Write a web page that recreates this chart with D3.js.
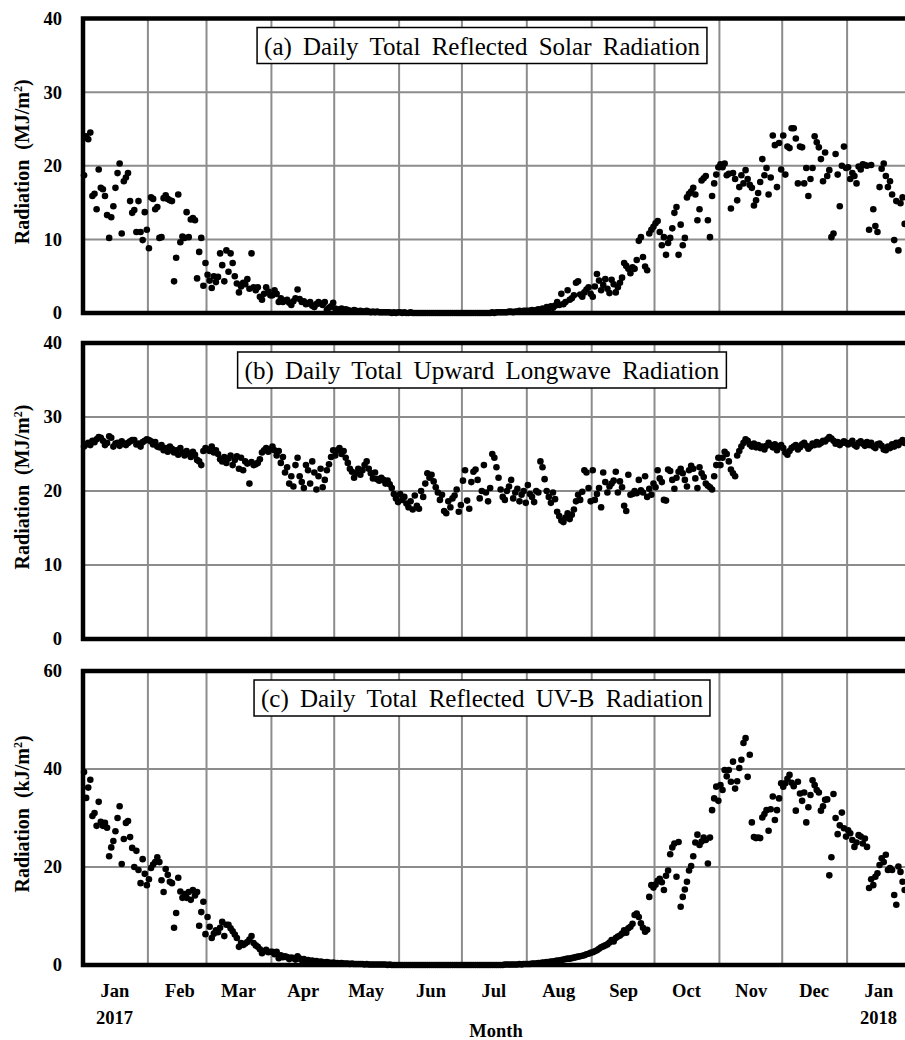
<!DOCTYPE html>
<html>
<head>
<meta charset="utf-8">
<script src="https://cdn.jsdelivr.net/npm/d3@7"></script>
<style>
  body { margin: 0; background: #fff; }
  svg { display: block; }
</style>
</head>
<body>
<div id="chart"></div>
<script>
// Daily values, one inner array per month, Jan 2017 .. Jan 2018
const reflectedSolar = [
  [18.7, 24.0, 23.6, 24.5, 15.9, 16.2, 14.1, 19.5, 17.0, 16.8, 15.9, 13.3, 10.2, 13.0, 14.5, 17.0, 19.0, 20.3, 10.8, 17.9, 18.4, 19.0, 15.2, 13.6, 14.0, 11.0, 15.2, 11.0, 9.9, 13.7, 11.3],
  [8.8, 15.7, 15.5, 14.1, 14.4, 10.2, 10.3, 15.6, 16.0, 15.5, 15.3, 15.2, 4.3, 7.5, 16.1, 9.6, 10.4, 10.2, 13.7, 10.3, 12.7, 12.9, 12.6, 4.7, 8.3, 10.2, 3.7, 6.8],
  [5.2, 4.4, 3.4, 5.0, 4.2, 4.9, 8.1, 6.5, 4.3, 8.5, 5.6, 8.1, 6.8, 5.0, 4.0, 2.8, 3.6, 4.1, 3.9, 4.6, 3.3, 8.1, 3.5, 3.1, 3.5, 2.2, 1.8, 2.6, 3.5, 2.9, 2.4],
  [2.4, 3.1, 2.6, 1.5, 2.0, 1.5, 1.7, 1.8, 1.4, 1.1, 1.6, 2.0, 3.2, 1.9, 1.5, 1.6, 1.2, 1.3, 1.5, 1.0, 0.8, 1.2, 1.5, 1.3, 1.1, 1.5, 0.4, 0.7, 0.9, 1.4],
  [0.6, 0.5, 0.4, 0.6, 0.3, 0.5, 0.4, 0.3, 0.2, 0.4, 0.3, 0.2, 0.3, 0.2, 0.2, 0.3, 0.2, 0.1, 0.2, 0.1, 0.2, 0.1, 0.1, 0.1, 0.1, 0.1, 0.1, 0.0, 0.1, 0.0, 0.1],
  [0.1, 0.0, 0.1, 0.0, 0.0, 0.1, 0.0, 0.0, 0.0, 0.0, 0.0, 0.0, 0.0, 0.0, 0.0, 0.0, 0.0, 0.0, 0.0, 0.0, 0.0, 0.0, 0.0, 0.0, 0.0, 0.0, 0.0, 0.0, 0.0, 0.0],
  [0.0, 0.0, 0.0, 0.0, 0.0, 0.0, 0.0, 0.0, 0.0, 0.0, 0.0, 0.0, 0.0, 0.0, 0.1, 0.0, 0.1, 0.1, 0.1, 0.1, 0.1, 0.1, 0.2, 0.2, 0.1, 0.2, 0.2, 0.3, 0.2, 0.3, 0.3],
  [0.3, 0.3, 0.4, 0.2, 0.4, 0.5, 0.3, 0.6, 0.5, 0.8, 0.6, 0.9, 0.7, 1.0, 1.5, 1.1, 2.6, 1.2, 1.5, 3.1, 1.8, 2.0, 2.4, 4.1, 4.3, 2.5, 2.2, 2.8, 3.2, 3.5, 2.6],
  [2.2, 3.6, 5.3, 4.4, 3.1, 3.8, 4.6, 3.3, 2.7, 4.5, 3.9, 2.8, 3.5, 4.1, 4.8, 6.8, 6.4, 6.0, 5.4, 6.2, 6.0, 7.2, 9.8, 10.3, 7.6, 6.3, 5.8, 10.8, 11.3, 11.7],
  [12.2, 12.5, 11.0, 9.2, 10.3, 7.9, 9.5, 10.2, 11.5, 13.6, 14.4, 7.9, 12.0, 9.2, 10.2, 15.7, 16.2, 16.5, 17.0, 16.1, 12.6, 14.1, 18.0, 18.3, 18.6, 12.6, 10.3, 15.9, 17.6, 18.8, 19.8],
  [20.2, 19.8, 20.3, 18.7, 18.9, 14.2, 19.0, 18.2, 15.3, 17.1, 18.7, 17.6, 19.4, 18.2, 17.4, 17.0, 14.6, 15.3, 16.3, 17.8, 20.9, 18.7, 19.7, 16.1, 18.4, 24.1, 22.8, 17.1, 23.1, 19.5],
  [24.1, 18.8, 22.6, 22.4, 25.1, 25.1, 23.7, 17.6, 22.6, 22.5, 17.6, 19.7, 15.9, 18.2, 19.7, 24.0, 23.2, 22.5, 20.9, 17.9, 21.8, 18.6, 19.4, 10.3, 10.8, 21.6, 18.8, 14.5, 20.0, 22.6, 19.7],
  [19.8, 18.2, 19.0, 18.6, 17.6, 19.9, 19.5, 20.2, 20.1, 20.0, 11.3, 20.1, 14.1, 11.8, 11.0, 17.1, 19.6, 20.3, 18.6, 17.1, 17.9, 16.1, 9.9, 15.2, 8.5, 14.9, 15.7, 12.1]
];

const upwardLongwave = [
  [26.0, 26.3, 26.5, 26.2, 26.8, 26.6, 27.0, 27.3, 27.2, 26.8, 26.2, 26.5, 27.4, 27.2, 26.0, 26.4, 26.5, 26.1, 26.7, 26.4, 26.2, 26.5, 26.7, 26.9, 26.9, 26.3, 26.4, 26.0, 26.6, 26.8, 27.0],
  [26.9, 26.7, 26.3, 26.6, 26.0, 25.9, 26.2, 25.5, 25.8, 25.3, 26.0, 25.7, 25.2, 25.5, 24.9, 25.8, 25.2, 24.8, 25.4, 25.0, 24.6, 25.3, 24.9, 24.2, 24.0, 23.5, 25.4, 25.8],
  [25.6, 25.4, 26.0, 25.2, 25.5, 25.0, 24.3, 24.0, 24.6, 23.8, 24.4, 24.8, 23.5, 24.2, 24.7, 23.0, 24.5, 22.8, 24.0, 23.7, 21.0, 23.9, 23.5, 23.6, 23.8, 24.3, 25.2, 25.5, 25.8, 25.3, 25.6],
  [26.0, 25.5, 24.8, 25.4, 23.8, 24.6, 22.5, 23.2, 21.0, 22.0, 20.6, 23.5, 24.5, 22.0, 21.2, 20.4, 23.5, 22.8, 21.0, 24.0, 22.5, 20.2, 22.0, 23.0, 20.5, 21.5, 22.8, 23.6, 24.6, 25.5],
  [24.8, 25.5, 25.8, 25.0, 25.4, 24.5, 23.8, 23.0, 22.6, 21.8, 22.4, 23.0, 22.2, 22.8, 23.5, 24.0, 23.0, 22.4, 21.7, 22.5, 21.6, 21.4, 21.8, 21.5, 21.0, 21.4, 20.9, 20.4, 19.6, 19.0, 18.5],
  [19.6, 18.8, 19.2, 18.3, 17.8, 18.6, 17.5, 19.4, 18.0, 17.6, 20.0, 19.2, 21.0, 22.4, 21.8, 22.2, 21.3, 20.5, 19.8, 18.8, 19.5, 17.3, 17.0, 18.6, 17.8, 19.0, 19.4, 20.2, 17.2, 18.1],
  [21.4, 22.8, 18.7, 17.6, 21.2, 22.6, 22.9, 21.5, 19.0, 20.0, 23.5, 19.8, 18.6, 20.4, 25.0, 24.5, 23.2, 21.8, 20.2, 19.2, 18.8, 20.0, 20.6, 21.5, 19.0, 19.8, 20.3, 18.6, 19.5, 20.0, 18.4],
  [20.8, 19.6, 19.2, 18.5, 20.0, 19.8, 24.0, 23.2, 21.6, 20.0, 19.2, 18.4, 19.8, 18.9, 17.2, 16.6, 16.0, 15.8, 16.4, 17.0, 16.2, 16.8, 17.5, 18.6, 19.5, 18.8, 19.9, 22.8, 22.5, 20.4, 18.6],
  [22.8, 18.8, 19.6, 20.4, 17.8, 22.5, 21.2, 19.8, 20.6, 21.0, 21.4, 22.6, 19.8, 21.3, 20.5, 18.0, 17.3, 22.2, 19.5, 19.6, 20.0, 19.7, 21.5, 20.1, 19.8, 22.0, 19.2, 20.3, 19.5, 21.0],
  [20.5, 22.8, 21.7, 21.2, 18.8, 18.7, 22.9, 22.7, 21.5, 20.3, 21.8, 22.6, 23.0, 22.4, 21.5, 20.6, 22.8, 23.4, 23.0, 21.7, 20.4, 23.2, 22.4, 21.9, 21.0, 20.7, 20.5, 20.2, 22.0, 23.5, 24.5],
  [23.5, 24.5, 25.3, 25.0, 24.0, 22.9, 22.4, 22.0, 24.8, 25.4, 26.0, 26.5, 27.0, 26.8, 26.3, 26.0, 26.4, 25.9, 26.2, 25.8, 26.0, 25.6, 26.1, 26.5, 26.2, 25.9, 26.3, 25.5, 26.0, 26.2],
  [25.8, 25.2, 24.9, 25.4, 25.8, 26.0, 26.2, 25.6, 25.9, 26.3, 26.5, 26.1, 25.7, 26.0, 26.4, 26.2, 26.6, 26.3, 26.5, 26.8, 26.7, 27.0, 27.3, 27.1, 26.8, 26.4, 26.6, 26.2, 26.5, 26.7, 26.5],
  [26.3, 26.5, 26.8, 26.2, 26.0, 26.5, 26.7, 26.4, 26.1, 26.6, 26.2, 26.5, 26.0, 25.8, 26.3, 26.4, 26.1, 25.6, 25.5, 26.0, 25.8, 26.3, 26.0, 26.5, 26.2, 26.6, 26.9, 26.5]
];

const reflectedUVB = [
  [39.4, 34.1, 36.2, 37.8, 30.4, 31.0, 28.4, 33.3, 29.2, 28.4, 29.0, 28.0, 22.2, 24.0, 25.3, 27.3, 30.0, 32.4, 20.6, 25.7, 29.0, 29.4, 26.1, 23.9, 20.0, 23.3, 19.4, 16.7, 21.6, 18.6, 16.3],
  [17.5, 19.8, 20.5, 21.0, 22.0, 21.0, 17.3, 14.9, 19.6, 18.4, 17.0, 16.7, 7.6, 10.6, 17.8, 15.0, 13.7, 14.5, 13.7, 14.9, 13.3, 15.3, 14.2, 14.9, 8.0, 10.8, 12.9, 6.3],
  [9.8, 7.8, 5.5, 6.4, 7.1, 6.7, 7.6, 8.8, 5.9, 8.2, 8.2, 7.5, 6.9, 6.2, 5.5, 3.7, 4.5, 4.1, 4.4, 4.7, 5.2, 5.9, 4.5, 4.0, 3.7, 3.2, 2.4, 2.8, 3.1, 2.6, 2.7],
  [2.7, 2.2, 2.7, 1.4, 2.0, 1.6, 1.8, 1.6, 1.2, 1.5, 1.4, 1.1, 1.8, 1.3, 1.0, 1.2, 0.9, 1.0, 0.8, 0.9, 0.7, 0.8, 0.6, 0.7, 0.6, 0.5, 0.6, 0.5, 0.4, 0.5],
  [0.4, 0.4, 0.3, 0.4, 0.3, 0.3, 0.3, 0.2, 0.3, 0.2, 0.2, 0.2, 0.2, 0.2, 0.1, 0.2, 0.1, 0.1, 0.1, 0.1, 0.1, 0.1, 0.1, 0.1, 0.1, 0.0, 0.1, 0.0, 0.0, 0.0, 0.0],
  [0.0, 0.0, 0.0, 0.0, 0.0, 0.0, 0.0, 0.0, 0.0, 0.0, 0.0, 0.0, 0.0, 0.0, 0.0, 0.0, 0.0, 0.0, 0.0, 0.0, 0.0, 0.0, 0.0, 0.0, 0.0, 0.0, 0.0, 0.0, 0.0, 0.0],
  [0.0, 0.0, 0.0, 0.0, 0.0, 0.0, 0.0, 0.0, 0.0, 0.0, 0.0, 0.0, 0.0, 0.0, 0.0, 0.0, 0.0, 0.0, 0.0, 0.0, 0.1, 0.1, 0.1, 0.1, 0.1, 0.1, 0.1, 0.2, 0.1, 0.2, 0.2],
  [0.2, 0.2, 0.3, 0.3, 0.3, 0.4, 0.4, 0.5, 0.5, 0.6, 0.6, 0.7, 0.7, 0.8, 0.9, 0.9, 1.0, 1.1, 1.2, 1.3, 1.3, 1.4, 1.5, 1.6, 1.7, 1.8, 1.9, 2.0, 2.2, 2.3, 2.5],
  [2.6, 2.8, 3.0, 3.3, 3.6, 3.8, 4.0, 4.2, 4.6, 5.1, 4.8, 5.5, 5.8, 6.0, 6.4, 7.1, 6.6, 7.5, 7.8, 8.4, 10.2, 10.5, 9.8, 8.5, 7.6, 6.8, 7.2, 13.9, 16.3, 15.8],
  [16.4, 17.2, 17.6, 16.9, 15.3, 18.2, 19.3, 22.6, 24.0, 24.8, 18.0, 25.1, 11.9, 13.9, 15.4, 17.0, 19.3, 20.2, 22.2, 25.0, 26.6, 24.5, 25.2, 26.0, 25.5, 20.7, 26.0, 31.6, 34.0, 36.4, 33.5],
  [36.7, 35.7, 39.8, 38.5, 39.8, 37.4, 41.5, 36.0, 37.5, 40.2, 41.9, 45.3, 46.3, 38.4, 42.9, 29.1, 26.1, 25.9, 26.0, 25.9, 30.1, 30.8, 31.6, 27.4, 31.8, 34.4, 29.6, 31.6, 34.0, 37.1],
  [36.4, 37.1, 38.0, 38.8, 37.2, 36.5, 31.5, 37.4, 35.0, 33.5, 35.2, 29.1, 32.2, 34.7, 37.7, 36.7, 35.7, 35.2, 31.5, 32.4, 33.7, 33.8, 18.3, 22.0, 34.9, 30.0, 26.7, 28.5, 31.1, 27.9, 26.2],
  [27.5, 26.9, 25.5, 24.1, 25.0, 26.5, 26.2, 24.8, 25.8, 24.1, 15.7, 17.5, 16.3, 18.0, 18.7, 20.4, 21.8, 21.0, 22.5, 19.4, 19.8, 19.4, 14.3, 12.3, 20.1, 19.0, 17.0, 15.3]
];

const panelTitles = [
  "(a) Daily Total Reflected Solar Radiation",
  "(b) Daily Total Upward Longwave Radiation",
  "(c) Daily Total Reflected UV-B Radiation"
];
const panelUnits = ["MJ", "MJ", "kJ"];
const yMaxima = [40, 40, 60];
const yTickSteps = [10, 10, 20];

const width = 905, height = 1040;
const serif = "'Liberation Serif', 'Times New Roman', Times, serif";

const svg = d3.select("#chart").append("svg")
    .attr("width", width)
    .attr("height", height);

// Time axis: Jan 1 2017 .. Feb 1 2018, the right end runs off the picture
const x = d3.scaleTime()
    .domain([new Date(2017, 0, 1), new Date(2018, 1, 1)])
    .range([83, 912]);
const plotRight = width;

// plot areas (top, bottom) for each panel
const panelBoxes = [[18.5, 313], [343, 639], [671, 965]];

function toPoints(monthly) {
    const pts = [];
    monthly.forEach((vals, m) => {
        vals.forEach((v, i) => pts.push({ date: new Date(2017, m, i + 1, 12), value: v }));
    });
    return pts;
}

const series = [reflectedSolar, upwardLongwave, reflectedUVB];
const monthStarts = d3.timeMonth.range(new Date(2017, 1, 1), new Date(2018, 1, 1));

series.forEach((monthly, p) => {
    const [top, bottom] = panelBoxes[p];
    const y = d3.scaleLinear().domain([0, yMaxima[p]]).range([bottom, top]);
    const g = svg.append("g");
    const ticks = d3.range(0, yMaxima[p] + 1, yTickSteps[p]);
    const x0 = x.range()[0];

    // grid
    g.selectAll(".vgrid").data(monthStarts).enter().append("line")
        .attr("x1", d => x(d)).attr("x2", d => x(d))
        .attr("y1", top).attr("y2", bottom)
        .attr("stroke", "#8c8c8c").attr("stroke-width", 2);
    g.selectAll(".hgrid").data(ticks.slice(1, -1)).enter().append("line")
        .attr("x1", x0).attr("x2", plotRight)
        .attr("y1", d => y(d)).attr("y2", d => y(d))
        .attr("stroke", "#8c8c8c").attr("stroke-width", 2);

    // points
    g.selectAll("circle").data(toPoints(monthly)).enter().append("circle")
        .attr("cx", d => x(d.date))
        .attr("cy", d => y(d.value))
        .attr("r", 3.3)
        .attr("fill", "#000");

    // frame (top, left, bottom; right side is cut off)
    g.append("path")
        .attr("d", `M${plotRight},${top}H${x0}V${bottom}H${plotRight}`)
        .attr("fill", "none")
        .attr("stroke", "#000")
        .attr("stroke-width", 4.5);

    // y axis labels
    const yAxis = g.append("g")
        .attr("transform", `translate(${x0},0)`)
        .call(d3.axisLeft(y).tickValues(ticks).tickSize(0).tickPadding(21));
    yAxis.select(".domain").remove();
    yAxis.selectAll("text")
        .attr("font-family", serif)
        .attr("font-weight", "bold")
        .attr("font-size", 18.5)
        .attr("fill", "#000");

    // y title
    const yt = g.append("text")
        .attr("transform", `translate(29,${(top + bottom) / 2 - 4}) rotate(-90)`)
        .attr("text-anchor", "middle")
        .attr("font-family", serif)
        .attr("font-weight", "bold")
        .attr("font-size", 20)
        .attr("xml:space", "preserve");
    yt.append("tspan").text(`Radiation  (${panelUnits[p]}/m`);
    yt.append("tspan").attr("baseline-shift", "super").attr("font-size", 12).text("2");
    yt.append("tspan").text(")");

    // title box
    const cx = 482;
    const boxRect = g.append("rect");
    const title = g.append("text")
        .attr("x", cx)
        .attr("y", top + 36)
        .attr("text-anchor", "middle")
        .attr("font-family", serif)
        .attr("font-size", 25)
        .attr("word-spacing", 5)
        .text(panelTitles[p]);
    const tw = title.node().getComputedTextLength() + 14;
    boxRect
        .attr("x", cx - tw / 2)
        .attr("y", top + 9)
        .attr("width", tw)
        .attr("height", 36)
        .attr("fill", "#fff")
        .attr("stroke", "#000")
        .attr("stroke-width", 1.5);
});

// x axis month labels (mid-month)
const midMonths = d3.timeMonth.range(new Date(2017, 0, 1), new Date(2018, 1, 1))
    .map(d => new Date(d.getFullYear(), d.getMonth(), 16));
const xAxis = svg.append("g")
    .attr("transform", `translate(0,${panelBoxes[2][1]})`)
    .call(d3.axisBottom(x).tickValues(midMonths).tickSize(0).tickPadding(19)
        .tickFormat(d3.timeFormat("%b")));
xAxis.select(".domain").remove();
xAxis.selectAll("text")
    .attr("font-family", serif)
    .attr("font-weight", "bold")
    .attr("font-size", 18.5)
    .attr("fill", "#000");

// year labels under the January ticks
svg.selectAll(".year").data([midMonths[0], midMonths[12]]).enter().append("text")
    .attr("x", d => x(d))
    .attr("y", 1024)
    .attr("text-anchor", "middle")
    .attr("font-family", serif)
    .attr("font-weight", "bold")
    .attr("font-size", 18.5)
    .text(d => d.getFullYear());

svg.append("text")
    .attr("x", 496)
    .attr("y", 1037)
    .attr("text-anchor", "middle")
    .attr("font-family", serif)
    .attr("font-weight", "bold")
    .attr("font-size", 18.5)
    .text("Month");
</script>
</body>
</html>
